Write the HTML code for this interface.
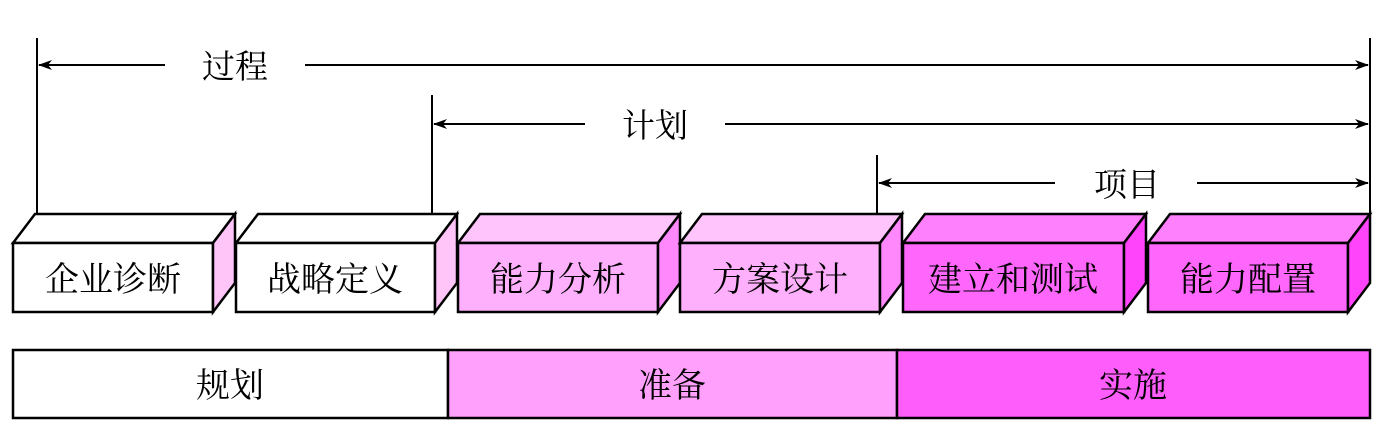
<!DOCTYPE html>
<html><head><meta charset="utf-8"><style>body{margin:0;background:#fff}</style></head><body>
<svg width="1382" height="436" xmlns="http://www.w3.org/2000/svg" font-family="'Liberation Serif','Noto Serif CJK SC',serif">
<defs><marker id="a" markerWidth="14" markerHeight="10" refX="13" refY="5" orient="auto-start-reverse" markerUnits="userSpaceOnUse"><path d="M0,0 L14,5 L0,10 L4,5 z" fill="#000"/></marker></defs>
<g stroke="#000" stroke-width="2" fill="none">
<line x1="37" y1="38" x2="37" y2="214"/><line x1="1370" y1="38" x2="1370" y2="214"/>
<line x1="432" y1="95" x2="432" y2="214"/><line x1="877" y1="155" x2="877" y2="214"/>
<line x1="39" y1="65" x2="165" y2="65" marker-start="url(#a)"/><line x1="305" y1="65" x2="1368" y2="65" marker-end="url(#a)"/>
<line x1="434" y1="124" x2="585" y2="124" marker-start="url(#a)"/><line x1="725" y1="124" x2="1368" y2="124" marker-end="url(#a)"/>
<line x1="879" y1="183" x2="1055" y2="183" marker-start="url(#a)"/><line x1="1197" y1="183" x2="1368" y2="183" marker-end="url(#a)"/>
</g>
<g font-size="33" text-anchor="middle">
<text x="235" y="78">过程</text><text x="655" y="137">计划</text><text x="1127" y="196">项目</text>
</g>
<g stroke="#000" stroke-width="2.5" stroke-linejoin="miter">
<g fill="#fff"><polygon points="13,243 35,214 235,214 213,243"/><rect x="13" y="243" width="200" height="69"/></g>
<polygon points="213,243 235,214 235,283 213,312" fill="#ffc4f8"/>
<g fill="#fff"><polygon points="236,243 258,214 457,214 435,243"/><rect x="236" y="243" width="199" height="69"/></g>
<polygon points="435,243 457,214 457,283 435,312" fill="#ffc4f8"/>
<polygon points="458,243 480,214 680,214 658,243" fill="#ffc4fc"/><rect x="458" y="243" width="200" height="69" fill="#ffb0fc"/>
<polygon points="658,243 680,214 680,283 658,312" fill="#ff88fc"/>
<polygon points="680,243 702,214 902,214 880,243" fill="#ffc4fc"/><rect x="680" y="243" width="200" height="69" fill="#ffb0fc"/>
<polygon points="880,243 902,214 902,283 880,312" fill="#ff88fc"/>
<polygon points="903,243 925,214 1146,214 1124,243" fill="#ff80fc"/><rect x="903" y="243" width="221" height="69" fill="#ff66fc"/>
<polygon points="1124,243 1146,214 1146,283 1124,312" fill="#ff44fc"/>
<polygon points="1148,243 1170,214 1370,214 1348,243" fill="#ff80fc"/><rect x="1148" y="243" width="200" height="69" fill="#ff66fc"/>
<polygon points="1348,243 1370,214 1370,283 1348,312" fill="#ff44fc"/>
<rect x="13" y="350" width="435" height="68" fill="#fff"/>
<rect x="448" y="350" width="449" height="68" fill="#ffa0fc"/>
<rect x="897" y="350" width="473" height="68" fill="#ff5cfc"/>
</g>
<g font-size="34" text-anchor="middle">
<text x="113" y="291">企业诊断</text><text x="335" y="291">战略定义</text>
<text x="558" y="291">能力分析</text><text x="780" y="291">方案设计</text>
<text x="1013" y="291">建立和测试</text><text x="1248" y="291">能力配置</text>
<text x="230" y="397">规划</text><text x="672" y="397">准备</text><text x="1133" y="397">实施</text>
</g>
</svg>
</body></html>
